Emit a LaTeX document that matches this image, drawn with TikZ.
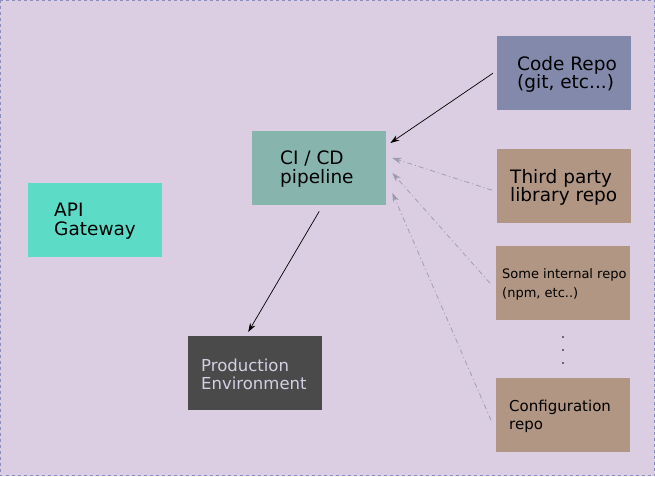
\documentclass[tikz,border=0pt]{standalone}
\usepackage{fontspec}
\setmainfont{DejaVu Sans}
\usetikzlibrary{arrows.meta}
\definecolor{bg}{HTML}{DBCDE2}
\definecolor{frame}{HTML}{8A8FC0}
\definecolor{coderepo}{HTML}{8389AB}
\definecolor{cicd}{HTML}{87B4AD}
\definecolor{brownrepo}{HTML}{B19683}
\definecolor{apigw}{HTML}{5CDCC6}
\definecolor{prodbg}{HTML}{4A4A4A}
\definecolor{prodtext}{HTML}{D4D0E4}
\definecolor{arrowgray}{HTML}{9A9AAE}
\begin{document}
\begin{tikzpicture}[x=1pt,y=-1pt,
  box/.style={rectangle, draw=none, minimum width=134pt, minimum height=74pt,
    inner sep=0pt, anchor=north west},
  label/.style={anchor=west, align=left, inner sep=0pt, text=black,
    font=\fontsize{18.5}{18.5}\selectfont},
  solidarrow/.style={-{Stealth[length=9pt,width=6pt,inset=3pt]}, line width=0.7pt, black},
  dasharrow/.style={-{Stealth[length=9pt,width=6pt,inset=3pt]}, line width=0.7pt,
    arrowgray, dash pattern=on 5pt off 3pt on 1pt off 3pt},
  dotmark/.style={circle, fill=black, inner sep=0pt, minimum size=1.6pt}]
\useasboundingbox (0,0) rectangle (655,476);
\fill[bg] (0,0) rectangle (655,476);
\draw[frame, line width=0.8pt, dash pattern=on 3pt off 3pt] (0.5,0.5) rectangle (654.5,475.5);

\node[box, fill=coderepo] (code) at (497,36) {};
\node[box, fill=cicd] (ci) at (252,131) {};
\node[box, fill=brownrepo] (third) at (497,149) {};
\node[box, fill=brownrepo] (internal) at (496,246) {};
\node[box, fill=brownrepo] (config) at (496,378) {};
\node[box, fill=apigw] (api) at (28,183) {};
\node[box, fill=prodbg] (prod) at (188,336) {};

\node[label] (codet) at ([xshift=20pt,yshift=-1pt]code.west) {Code Repo\\(git, etc...)};
\node[label] (cit) at ([xshift=28pt,yshift=-1pt]ci.west) {CI / CD\\pipeline};
\node[label] (thirdt) at ([xshift=13pt,yshift=-1pt]third.west) {Third party\\library repo};
\node[label, font=\fontsize{13}{18.5}\selectfont] (internalt) at ([xshift=6pt,yshift=-1pt]internal.west) {Some internal repo\\(npm, etc..)};
\node[label, font=\fontsize{15}{17.5}\selectfont] (configt) at ([xshift=13pt,yshift=-1pt]config.west) {Configuration\\repo};
\node[label] (apit) at ([xshift=26pt,yshift=-1pt]api.west) {API\\Gateway};
\node[label, text=prodtext, font=\fontsize{16.5}{18.5}\selectfont] (prodt) at ([xshift=13pt,yshift=-1pt]prod.west) {Production\\Environment};

\node[dotmark] (d1) at (563,337) {};
\node[dotmark] (d2) at (563,350) {};
\node[dotmark] (d3) at (563,363) {};

\draw[solidarrow] ([xshift=-4pt]code.west) -- ([xshift=4pt,yshift=-12pt]ci.north east);
\draw[dasharrow] ([xshift=-5pt,yshift=-4pt]third.west) -- ([xshift=6pt,yshift=-27pt]ci.north east);
\draw[dasharrow] ([xshift=-6pt]internal.west) -- ([xshift=6pt,yshift=-42pt]ci.north east);
\draw[dasharrow] ([xshift=-5pt,yshift=-5pt]config.west) -- ([xshift=6pt,yshift=-62pt]ci.north east);
\draw[solidarrow] ([yshift=-6pt]ci.south) -- ([xshift=-7pt,yshift=4pt]prod.north);
\end{tikzpicture}
\end{document}
